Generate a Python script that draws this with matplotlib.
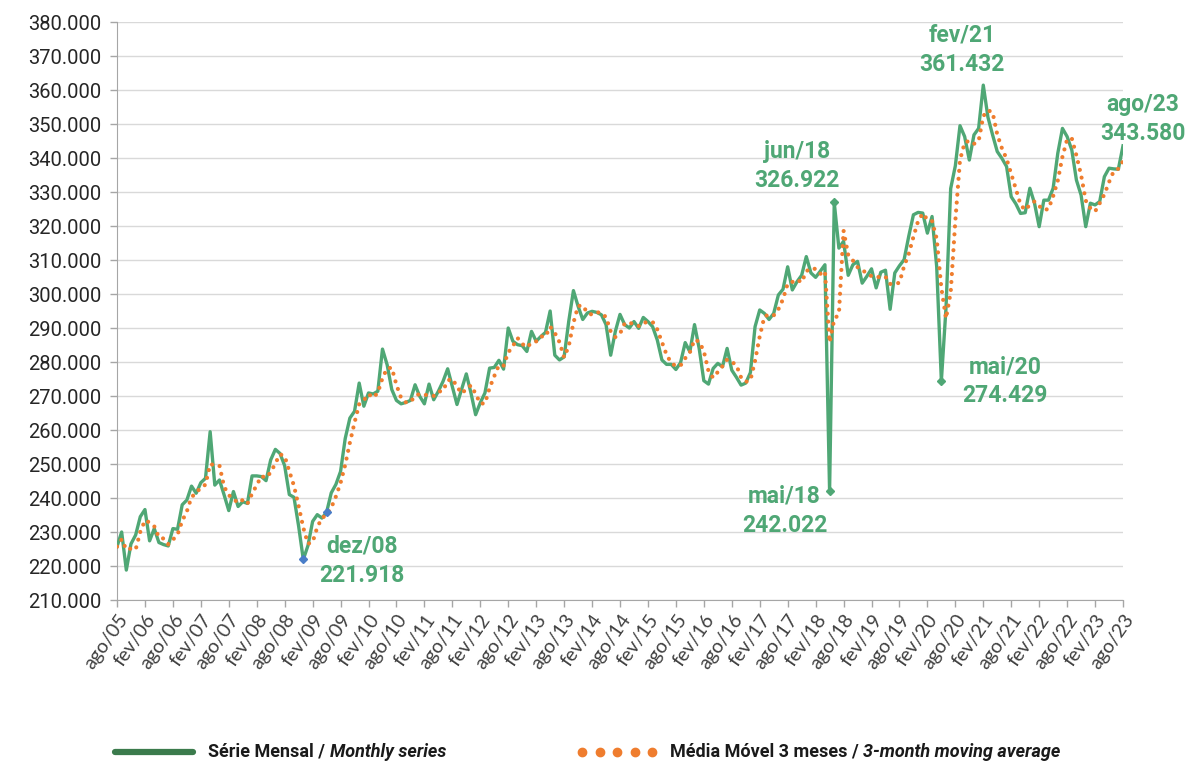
import matplotlib.pyplot as plt
from matplotlib.lines import Line2D
import numpy as np
import pandas as pd

# Série mensal (mil), de ago/05 a ago/23 - uma linha por ano civil
serie_2005 = [225.7, 230.0, 218.8, 226.5, 229.1]
serie_2006 = [234.5, 236.6, 227.4, 231.0, 226.9, 226.3, 225.9, 231.0, 230.8, 238.0, 239.4, 243.5]
serie_2007 = [241.4, 244.5, 245.8, 259.5, 243.8, 245.3, 240.9, 236.3, 241.9, 237.5, 238.9, 238.4]
serie_2008 = [246.5, 246.5, 246.3, 245.1, 251.2, 254.3, 253.1, 249.5, 241.0, 240.2, 231.7, 221.918]
serie_2009 = [226.0, 233.1, 235.1, 234.1, 235.8, 241.5, 244.0, 247.8, 257.5, 263.5, 265.5, 273.8]
serie_2010 = [267.0, 270.9, 270.6, 271.4, 283.8, 279.2, 271.9, 268.7, 267.7, 268.1, 268.7, 273.3]
serie_2011 = [269.9, 267.7, 273.5, 268.9, 271.4, 274.3, 278.0, 272.8, 267.5, 272.0, 276.5, 270.9]
serie_2012 = [264.5, 268.0, 270.9, 278.2, 278.4, 280.5, 277.9, 290.0, 286.1, 285.1, 284.8, 283.1]
serie_2013 = [289.0, 286.1, 287.5, 288.7, 295.0, 282.0, 280.6, 281.5, 292.0, 301.0, 296.4, 292.5]
serie_2014 = [294.4, 294.9, 294.6, 293.9, 291.0, 282.0, 289.0, 294.0, 291.0, 290.0, 291.9, 289.9]
serie_2015 = [293.1, 291.9, 290.4, 286.5, 280.6, 279.3, 279.3, 277.8, 279.8, 285.7, 283.0, 291.0]
serie_2016 = [284.0, 274.5, 273.5, 278.1, 279.6, 278.6, 284.0, 277.6, 275.5, 273.2, 273.8, 276.9]
serie_2017 = [290.4, 295.3, 294.3, 292.5, 294.3, 299.7, 301.4, 308.0, 301.2, 303.6, 305.5, 311.0]
serie_2018 = [306.2, 304.9, 306.7, 308.6, 242.022, 326.922, 313.5, 315.5, 305.5, 308.6, 309.6, 303.2]
serie_2019 = [305.2, 307.4, 301.8, 306.4, 307.0, 295.5, 306.2, 308.3, 310.1, 317.0, 323.3, 324.0]
serie_2020 = [323.8, 317.9, 322.8, 308.0, 274.429, 296.0, 331.0, 337.7, 349.5, 346.3, 339.4, 346.8]
serie_2021 = [348.7, 361.432, 352.0, 346.8, 341.9, 339.9, 337.5, 328.6, 326.5, 323.7, 323.9, 331.1]
serie_2022 = [326.7, 319.8, 327.6, 327.6, 331.1, 341.4, 348.7, 346.3, 342.4, 333.5, 329.1, 319.8]
serie_2023 = [326.7, 326.2, 327.2, 334.5, 337.0, 336.8, 336.7, 343.58]

meses = ["jan", "fev", "mar", "abr", "mai", "jun", "jul", "ago", "set", "out", "nov", "dez"]
ano_inicio, mes_inicio = 2005, 8

# pontos destacados: (rótulo, valor)
destaques = [("dez/08", "221.918"), ("mai/18", "242.022"), ("jun/18", "326.922"),
             ("mai/20", "274.429"), ("fev/21", "361.432"), ("ago/23", "343.580")]
marcadores_azuis = ["dez/08", "mai/09"]
marcadores_verdes = ["mai/18", "jun/18", "mai/20"]

verde = "#4FA775"
verde_legenda = "#3B7B4C"
laranja = "#EF7D2E"
azul = "#4A7EC8"


def main():
    serie = (serie_2005 + serie_2006 + serie_2007 + serie_2008 + serie_2009 + serie_2010
             + serie_2011 + serie_2012 + serie_2013 + serie_2014 + serie_2015 + serie_2016
             + serie_2017 + serie_2018 + serie_2019 + serie_2020 + serie_2021 + serie_2022
             + serie_2023)
    rotulos = []
    for i in range(len(serie)):
        k = mes_inicio - 1 + i
        rotulos.append(f"{meses[k % 12]}/{(ano_inicio + k // 12) % 100:02d}")
    s = pd.Series(serie, index=rotulos)
    media = s.rolling(3, min_periods=1).mean()
    x = np.arange(len(s))

    fig = plt.figure(figsize=(11.95, 7.65), dpi=100)
    ax = fig.add_axes([117 / 1195, 1 - 600 / 765, 1006 / 1195, 578 / 765])

    ax.plot(x, s.values, color=verde, lw=2.4, zorder=3, solid_joinstyle="round")
    ax.plot(x, media.values, color=laranja, lw=3.0, ls=(0, (0.01, 1.9)),
            dash_capstyle="round", zorder=4)

    for r in marcadores_azuis:
        i = rotulos.index(r)
        ax.plot(i, s.iloc[i], marker="D", ms=4.5, color=azul, zorder=5)
    for r in marcadores_verdes:
        i = rotulos.index(r)
        ax.plot(i, s.iloc[i], marker="D", ms=4.5, color=verde, zorder=5)

    # rótulos dos destaques (deslocamento em pixels a partir do ponto)
    deslocamentos = {"dez/08": (59, 13), "mai/18": (-45, -5), "jun/18": (-37, 51),
                     "mai/20": (64, 14), "fev/21": (-21, 50), "ago/23": (20, 41)}
    for r, txt in destaques:
        i = rotulos.index(r)
        dx, dy = deslocamentos[r]
        for j, t in enumerate([r, txt]):
            ax.annotate(t, xy=(i, s.iloc[i]), xytext=(dx * 0.72, (dy - 29 * j) * 0.72),
                        textcoords="offset points", ha="center", va="center",
                        fontsize=16.5, fontweight="bold", color=verde,
                        family="Roboto", annotation_clip=False)

    ax.set_xlim(0, len(s) - 1)
    ax.set_ylim(210, 380)
    ax.set_yticks(np.arange(210, 381, 10))
    ax.set_yticklabels([f"{v:.3f}" for v in np.arange(210, 381, 10)],
                       fontsize=14.5, family="Roboto", color="#262626")
    ax.set_xticks(x[::6])
    ax.set_xticklabels(rotulos[::6], rotation=55, ha="right", va="top",
                       rotation_mode="anchor", fontsize=14, family="Lato", color="#404040")
    ax.grid(axis="y", color="#d9d9d9", lw=1)
    ax.set_axisbelow(True)
    for sp in ["top", "right"]:
        ax.spines[sp].set_visible(False)
    for sp in ["left", "bottom"]:
        ax.spines[sp].set_color("#a6a6a6")
    ax.tick_params(axis="both", direction="out", length=5, color="#a6a6a6", width=1)
    ax.tick_params(axis="y", pad=6)
    ax.tick_params(axis="x", pad=3)

    # legenda
    fig.add_artist(Line2D([115 / 1195, 193 / 1195], [1 - 752 / 765] * 2, color=verde_legenda,
                          lw=4.5, solid_capstyle="round", transform=fig.transFigure))
    fig.add_artist(Line2D(np.linspace(582, 652, 5) / 1195, [1 - 752 / 765] * 5, ls="none",
                          marker="o", ms=6, color=laranja, transform=fig.transFigure))
    legendas = [(208, "Série Mensal / ", "Monthly series"),
                (670, "Média Móvel 3 meses / ", "3-month moving average")]
    for px, t1, t2 in legendas:
        a = fig.text(px / 1195, 1 - 752 / 765, t1, fontsize=13, fontweight="bold",
                     family="Roboto", color="#1a1a1a", va="center")
        ax.annotate(t2, xy=(1, 0), xycoords=a, va="bottom", fontsize=13, fontweight="bold",
                    fontstyle="italic", family="Roboto", color="#1a1a1a",
                    annotation_clip=False)

    fig.savefig("out.png", dpi=100)


if __name__ == "__main__":
    main()
